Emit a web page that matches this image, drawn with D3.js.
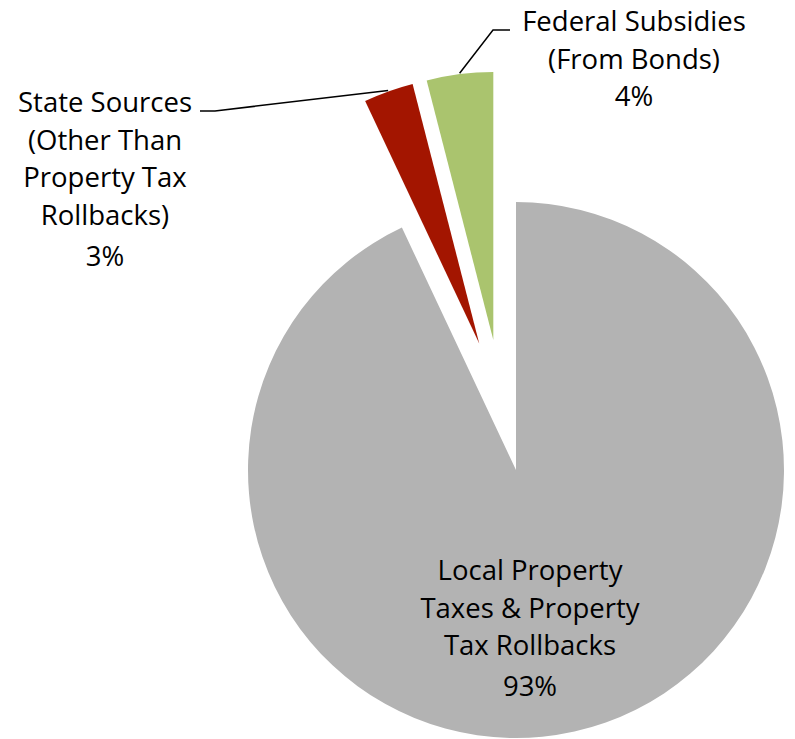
<!DOCTYPE html>
<html>
<head>
<meta charset="utf-8">
<script src="https://cdn.jsdelivr.net/npm/d3@7"></script>
<style>
  body { margin: 0; background: #fff; }
  text { font-family: "Open Sans", Lato, sans-serif; fill: #000; }
</style>
</head>
<body>
<div class="chart"></div>
<script>
// chart data
var categories = [
  "Local Property Taxes & Property Tax Rollbacks",
  "State Sources (Other Than Property Tax Rollbacks)",
  "Federal Subsidies (From Bonds)"
];
var values = [93, 3, 4];
var labelLines = [
  ["Local Property", "Taxes & Property", "Tax Rollbacks"],
  ["State Sources", "(Other Than", "Property Tax", "Rollbacks)"],
  ["Federal Subsidies", "(From Bonds)"]
];
var colors = ["#b3b3b3", "#a31500", "#aac46e"];

var svgWidth = 795;
var svgHeight = 739;

var radius = 268;
var explode = 66;
var center = { x: 501.6, y: 405.6 };

var svg = d3.select(".chart")
  .append("svg")
  .attr("width", svgWidth)
  .attr("height", svgHeight);

var pieGroup = svg.append("g")
  .attr("transform", `translate(${center.x}, ${center.y})`);

var pie = d3.pie()
  .sort(null)
  .value(d => d);

var arc = d3.arc()
  .innerRadius(0)
  .outerRadius(radius);

var arcs = pie(values);

// each slice pulled out along its bisector
function offset(d) {
  var a = (d.startAngle + d.endAngle) / 2;
  return [explode * Math.sin(a), -explode * Math.cos(a)];
}

pieGroup.selectAll("path")
  .data(arcs)
  .enter()
  .append("path")
  .attr("d", arc)
  .attr("fill", (d, i) => colors[i])
  .attr("transform", d => `translate(${offset(d)[0]}, ${offset(d)[1]})`);

// label layout (x = centre of text, y = first baseline)
var labelPos = [
  { x: 530, y: 580, pctGap: 41 },
  { x: 105, y: 112, pctGap: 41 },
  { x: 634, y: 31, pctGap: 37 }
];
var lineH = 37.5;
var fontSize = 27.5;

labelLines.forEach(function(lines, i) {
  var p = labelPos[i];
  var t = svg.append("text")
    .attr("text-anchor", "middle")
    .style("font-size", fontSize + "px");
  lines.forEach(function(l, j) {
    t.append("tspan")
      .attr("x", p.x)
      .attr("y", p.y + j * lineH)
      .text(l);
  });
  var pct = Math.round(values[i] / d3.sum(values) * 100) + "%";
  t.append("tspan")
    .attr("x", p.x)
    .attr("y", p.y + (lines.length - 1) * lineH + p.pctGap)
    .text(pct);
});

// leader lines from labels to the small slices
function outerPoint(d, frac) {
  var a = d.startAngle + (d.endAngle - d.startAngle) * frac;
  var o = offset(d);
  return [center.x + o[0] + (radius + 1) * Math.sin(a),
          center.y + o[1] - (radius + 1) * Math.cos(a)];
}

var stateEnd = outerPoint(arcs[1], 0.5);
var fedEnd = outerPoint(arcs[2], 0.5);

var line = d3.line();
svg.append("path")
  .attr("d", line([[200, 111], [215, 111], stateEnd]))
  .attr("fill", "none")
  .attr("stroke", "#000")
  .attr("stroke-width", 1.5);

svg.append("path")
  .attr("d", line([[510, 30], [493, 30], fedEnd]))
  .attr("fill", "none")
  .attr("stroke", "#000")
  .attr("stroke-width", 1.5);
</script>
</body>
</html>
